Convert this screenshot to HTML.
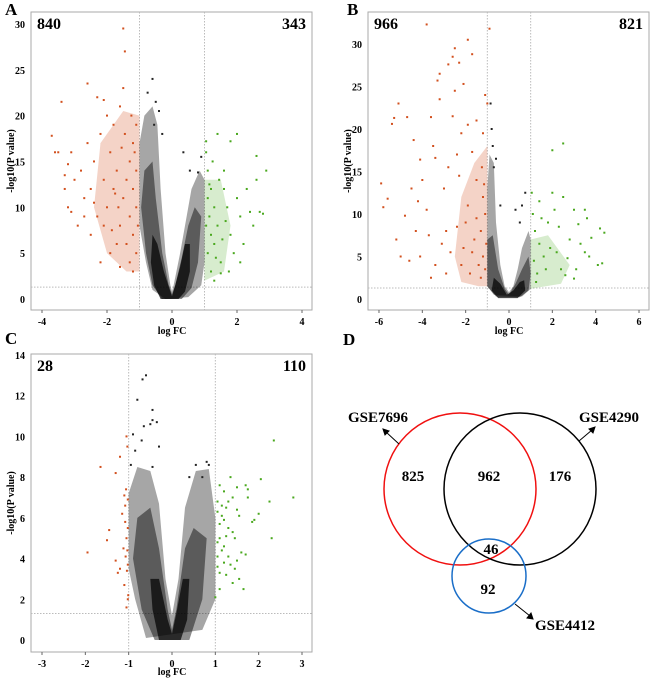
<!DOCTYPE html>
<html><head><meta charset="utf-8"><style>
html,body{margin:0;padding:0;background:#fff}
svg{display:block;font-family:"Liberation Serif",serif;font-weight:bold}
</style></head><body>
<svg id="fig" width="650" height="678" viewBox="0 0 650 678">
<g id="pA"></g>
<g id="pB"></g>
<g id="pC"></g>
<g id="pD">
  <text x="343" y="345" font-size="17">D</text>
  <circle cx="460" cy="489" r="76" fill="none" stroke="#f01010" stroke-width="1.5"/>
  <circle cx="520" cy="489" r="76" fill="none" stroke="#000" stroke-width="1.5"/>
  <circle cx="489" cy="576" r="37" fill="none" stroke="#1a6ec8" stroke-width="1.5"/>
  <text x="348" y="422" font-size="15">GSE7696</text>
  <text x="579" y="422" font-size="15">GSE4290</text>
  <text x="535" y="630" font-size="15">GSE4412</text>
  <g stroke="#000" stroke-width="1" fill="#000">
    <line x1="399" y1="444" x2="386" y2="432"/><polygon points="383,429 389,431 385,435"/>
    <line x1="579" y1="441" x2="592" y2="430"/><polygon points="595,427 593,433 589,429"/>
    <line x1="515" y1="604" x2="530" y2="616"/><polygon points="533,619 527,618 531,613"/>
  </g>
  <g font-size="15" text-anchor="middle">
    <text x="413" y="481">825</text>
    <text x="489" y="481">962</text>
    <text x="560" y="481">176</text>
    <text x="491" y="554">46</text>
    <text x="488" y="594">92</text>
  </g>
</g>
</svg>
<script>
// ---------- DATA ----------
const ticksXA = [-4,-2,0,2,4];
const ticksYA = [0,5,10,15,20,25,30];
const countsA = ["840","343"];
const cloudOuterA = [[-0.2,0],[-0.6,1],[-0.8,4],[-1,8],[-1,17],[-0.85,20],[-0.6,21],[-0.45,19],[-0.35,12],[-0.2,5],[-0.05,1.5],[0,0.8],[0.05,1.5],[0.25,5],[0.45,9],[0.6,12],[0.85,14],[1,13],[1,4],[0.9,1.5],[0.5,0.2]];
const cloudMidA = [[-0.3,0],[-0.6,1.5],[-0.8,5],[-0.95,10],[-0.85,14],[-0.6,15],[-0.5,11],[-0.3,5],[-0.1,1.5],[0,0.5],[0.1,1.5],[0.3,4.5],[0.5,8],[0.7,10],[0.9,9],[0.8,4],[0.6,1.2],[0.3,0]];
const cloudInnerA = [[-0.35,0],[-0.55,1.5],[-0.65,4],[-0.6,7],[-0.45,6],[-0.25,3],[-0.05,0.8],[0,0.3],[0.1,1.5],[0.25,3.5],[0.4,6],[0.55,6],[0.55,3],[0.4,0.8],[0.2,0]];
const blackA = [[-0.6,24],[-0.75,22.5],[-0.5,21.5],[-0.4,20.5],[-0.55,19],[0.35,16],[0.55,14],[0.8,13.8],[0.9,15.5],[-0.3,18]];
const redRegionA = [[-1,3],[-1,20],[-1.5,20.5],[-2.2,17],[-2.4,10],[-2,5],[-1.4,3]];
const redA = [[-1.1,19],[-1.2,17],[-1.3,15],[-1.1,14],[-1.4,13],[-1.2,12],[-1.5,11],[-1.1,10],[-1.3,9],[-1.6,8],[-1.2,7],[-1.4,6],[-1.1,5],[-1.3,4],[-1.7,14],[-1.8,12],[-1.9,16],[-2,10],[-2.1,13],[-2.2,18],[-2.3,9],[-2.4,15],[-2.5,12],[-2.6,17],[-2.7,11],[-2.8,14],[-2.9,8],[-3,13],[-3.1,16],[-3.2,10],[-3.3,13.5],[-3.5,16],[-3.7,17.8],[-3.4,21.5],[-2.6,23.5],[-2.3,22],[-1.5,29.5],[-1.45,27],[-1.6,21],[-1.8,19],[-2,20],[-1.7,6],[-1.9,5],[-2.2,4],[-2.5,7],[-2.1,8],[-1.6,3.5],[-1.2,3],[-1.05,8],[-1.15,16],[-1.25,20],[-1.45,18],[-1.55,16.5],[-1.65,10],[-1.75,11.5],[-1.85,7.5],[-2.4,10.5],[-2.7,9],[-3.1,9.5],[-3.3,12],[-1.5,23],[-2.1,21.7],[-3.6,16],[-3.2,14.7]];
const greenRegionA = [[1,2],[1,13],[1.5,13],[1.8,8],[1.6,3]];
const greenA = [[1.05,16],[1.1,14],[1.2,12],[1.1,11],[1.3,10],[1.15,9],[1.4,8],[1.2,7],[1.3,6],[1.1,5],[1.5,4],[1.2,3],[1.6,12],[1.7,10],[1.8,7],[1.9,5],[2,11],[2.1,9],[2.2,6],[2.3,12],[2.5,8],[2.6,13],[2.7,9.5],[2.9,14],[1.4,18],[2,18],[2.6,15.6],[1.3,2],[1.5,2.8],[1.6,14],[1.25,15],[1.45,13],[1.35,4.5],[1.75,3],[2.1,4],[1.55,6.5],[1.05,8],[1.15,12.5],[1.65,8.5],[2.4,9.5],[1.05,17.2],[1.8,17.2],[2.8,9.3]];

const ticksXB = [-6,-4,-2,0,2,4,6];
const ticksYB = [0,5,10,15,20,25,30];
const countsB = ["966","821"];
const cloudOuterB = [[-0.7,0.5],[-1,1.5],[-1,13],[-0.9,17],[-0.7,16],[-0.6,9],[-0.4,4],[-0.2,1.5],[0,0.8],[0.2,1.5],[0.4,3.5],[0.6,6],[0.9,8],[1,7],[1,1.2],[0.6,0.3]];
const cloudMidB = [[-0.6,0.3],[-1,1.5],[-1,7],[-0.75,7.5],[-0.5,3.5],[-0.2,1.2],[0,0.5],[0.3,1.8],[0.6,3.5],[0.9,5],[1,3],[0.9,1],[0.5,0.2]];
const cloudInnerB = [[-0.5,0.1],[-0.8,1],[-0.7,2.5],[-0.4,1.8],[-0.1,0.5],[0.2,1],[0.5,2],[0.7,2.2],[0.75,1],[0.4,0.1]];
const blackB = [[-0.8,20],[-0.85,23],[-0.6,16.5],[-0.7,15.5],[-0.4,11],[0.3,10.5],[0.6,11],[0.5,9],[-0.75,18],[0.75,12.5]];
const redRegionB = [[-1,1.5],[-1,18],[-1.6,16],[-2.2,12],[-2.5,5],[-2.2,2],[-1.4,1.5]];
const redB = [[-3.8,32.3],[-0.9,31.8],[-1.9,30.5],[-1.7,28.8],[-2.5,29.5],[-2.6,28.5],[-2.3,27.8],[-2.8,27.6],[-3.2,26.5],[-3.3,25.7],[-2.5,24.5],[-2.1,25.3],[-3.2,23.5],[-1,23],[-1.1,24],[-5.1,23],[-5.3,21.3],[-5.4,20.6],[-4.7,21.4],[-3.6,21.4],[-2.6,21.5],[-1.9,20.5],[-2.2,19.5],[-1.5,21],[-4.4,18.7],[-4.1,16.4],[-3.4,16.6],[-2.4,17],[-1.7,17.3],[-1.2,19.5],[-5.9,13.6],[-5.8,10.8],[-5.6,11.8],[-4.2,11.5],[-4.5,13],[-3,13],[-3.8,10.5],[-2.9,8],[-2,9],[-1.5,14],[-1.2,12],[-1.1,10],[-1.3,8],[-1.6,7],[-1.2,5],[-1.4,4],[-1.8,3],[-2.1,6],[-2.4,8.5],[-2.7,5.5],[-3.1,6.5],[-3.4,4],[-3.7,7.5],[-4.1,5],[-4.3,8],[-4.6,4.5],[-5.2,7],[-5,5],[-4.8,9.8],[-3.6,2.5],[-2.9,3],[-2.2,4],[-1.7,5.5],[-1.3,2.5],[-1.1,3.5],[-1.5,9.5],[-1.9,11],[-2.3,14.5],[-2.8,15.5],[-3.5,18],[-4,14],[-1.25,15.5],[-1.05,6.5],[-1.15,13.5]];
const greenRegionB = [[1,1.2],[1,7],[1.8,7.5],[2.8,4],[2.4,1.8]];
const greenB = [[1.05,12.5],[1.4,11.5],[2.0,12.5],[2.5,12],[2,17.5],[2.5,18.3],[1.5,9.5],[2.1,10.5],[3,10.5],[3.5,10.5],[3.6,9.5],[4.2,8.3],[4.4,7.8],[3.8,7.2],[3.3,6.5],[2.8,7],[2.3,8.5],[1.8,9],[1.2,8],[3.5,5.5],[4.1,4],[4.3,4.2],[3.1,3.5],[2.6,2.8],[3,2.4],[1.6,5],[1.3,3],[2.2,5.5],[1.1,10],[1.7,3.5],[2.7,4.8],[3.2,8.8],[1.9,6],[1.4,6.5],[2.4,3.5],[1.15,4.5],[1.25,2],[3.7,5]];

const ticksXC = [-3,-2,-1,0,1,2,3];
const ticksYC = [0,2,4,6,8,10,12,14];
const countsC = ["28","110"];
const cloudOuterC = [[-0.6,0.1],[-0.85,2],[-1,3.5],[-1,7.2],[-0.8,8.5],[-0.5,8.3],[-0.3,6.7],[-0.15,3],[0,1.2],[0.15,3],[0.3,6.5],[0.55,8.3],[0.85,8.4],[1,6],[1,2],[0.7,0.5]];
const cloudMidC = [[-0.4,0],[-0.7,1.5],[-0.9,4],[-0.8,6],[-0.5,6.5],[-0.3,4.5],[-0.1,1.5],[0,0.5],[0.1,1.5],[0.3,4.5],[0.5,5.5],[0.8,5],[0.7,2],[0.4,0]];
const cloudInnerC = [[-0.3,0],[-0.45,1.5],[-0.5,3],[-0.3,3],[-0.1,1],[0,0.3],[0.1,1.3],[0.25,3],[0.4,3],[0.35,1],[0.2,0]];
const blackC = [[-0.6,13],[-0.68,12.8],[-0.8,11.8],[-0.45,11.3],[-0.45,10.8],[-0.35,10.7],[-0.5,10.6],[-0.65,10.5],[-0.9,10.1],[-0.7,9.8],[-0.3,9.5],[-0.85,9.3],[-0.95,8.6],[0.8,8.75],[0.85,8.6],[0.55,8.6],[0.4,8],[0.7,8],[-0.45,8.5]];
const redC = [[-1.95,4.3],[-1.65,8.5],[-1.5,4.9],[-1.45,5.4],[-1.3,8.2],[-1.3,3.9],[-1.25,3.3],[-1.2,9],[-1.2,3.5],[-1.15,6.2],[-1.12,4.5],[-1.1,2.7],[-1.1,7.1],[-1.08,5.8],[-1.05,10],[-1.05,5],[-1.03,4.4],[-1.02,3.7],[-1.02,2],[-1.05,1.6],[-1.03,9.5],[-1.02,6.9],[-1.02,5.5],[-1.04,3.4],[-1.06,7.4],[-1.07,4.1],[-1.01,2.2],[-1.08,6.6]];
const greenC = [[2.35,9.8],[1.35,8],[2.05,7.9],[1.7,7.6],[1.5,7.5],[1.75,7.4],[1.1,7.6],[1.2,7.3],[1.4,7],[1.75,7],[2.8,7],[2.25,6.8],[1.05,6.8],[1.15,6.6],[1.25,6.5],[1.05,6.3],[1.5,6.4],[1.55,6.1],[2.0,6.2],[1.9,5.9],[1.85,5.8],[1.2,5.9],[1.1,5.7],[1.3,5.5],[1.4,5.3],[1.25,5.1],[1.1,5],[1.05,4.8],[1.45,5],[2.3,5],[1.6,4.3],[1.7,4.2],[1.3,4.1],[1.15,4.4],[1.5,3.9],[1.05,4.1],[1.2,3.8],[1.35,3.7],[1.45,3.5],[1.1,3.3],[1.25,3.2],[1.55,3],[1.1,2.5],[1.65,2.5],[1.15,6.1],[1.2,4.6],[1.0,2.1],[1.4,2.8],[1.05,3.6],[1.3,6.8]];

// ---------- DRAW ----------
const NS = "http://www.w3.org/2000/svg";
function mk(parent, tag, attrs){
  const el = document.createElementNS(NS, tag);
  for (const k in attrs) el.setAttribute(k, attrs[k]);
  parent.appendChild(el);
  return el;
}
function panel(gId, cfg){
  const g = document.getElementById(gId);
  const {x0,x1,y0,y1,xs,ys} = cfg;
  const fr = mk(g,'rect',{x:x0,y:y0,width:x1-x0,height:y1-y0,fill:'none',stroke:'#aaa','stroke-width':1});
  
  
  [-1,1].forEach(v=>{
    const l = mk(g,'line',{x1:xs(v),x2:xs(v),y1:y0,y2:y1,stroke:'#bbb','stroke-width':1,'stroke-dasharray':'1.5,1.5'});
    
    
  });
  const hl = mk(g,'line',{x1:x0,x2:x1,y1:ys(1.3),y2:ys(1.3),stroke:'#bbb','stroke-width':1,'stroke-dasharray':'1.5,1.5'});
  
  
  const poly = (pts, fill, op, name)=>{
    const p = mk(g,'polygon',{points:pts.map(d=>xs(d[0])+','+ys(d[1])).join(' '),fill:fill,'fill-opacity':op,'stroke-linejoin':'round'});
    
    
  };
  if (cfg.redRegion) poly(cfg.redRegion,'#d2501e',0.25,'down-regulated-density');
  if (cfg.greenRegion) poly(cfg.greenRegion,'#48a81e',0.22,'up-regulated-density');
  poly(cfg.outer,'#000',0.35,'non-significant-cloud');
  poly(cfg.mid,'#000',0.45,'non-significant-cloud-mid');
  poly(cfg.inner,'#000',0.7,'non-significant-core');
  const dots = (arr, col, name)=>{
    arr.forEach(d=>{
      const c = mk(g,'rect',{x:xs(d[0])-1,y:ys(d[1])-1,width:2,height:2,fill:col});
      
      
    });
  };
  dots(cfg.black,'#222','gene-point');
  dots(cfg.red,'#d2501e','down-gene-point');
  dots(cfg.green,'#4aa81e','up-gene-point');
  cfg.tx.forEach(v=>{
    const t = mk(g,'line',{x1:xs(v),x2:xs(v),y1:y1,y2:y1+3,stroke:'#666'});
    
    
    const tl = mk(g,'text',{x:xs(v),y:y1+15,'font-size':10,'text-anchor':'middle'});
    tl.textContent = v;
    
    
  });
  cfg.ty.forEach(v=>{
    const tl = mk(g,'text',{x:x0-6,y:ys(v)+4,'font-size':10,'text-anchor':'end'});
    tl.textContent = v;
    
    
  });
  const xt = mk(g,'text',{x:xs(0),y:cfg.xtY,'font-size':10,'text-anchor':'middle'});
  xt.textContent = 'log FC';
  
  
  const yc = (y0+y1)/2;
  const yt = mk(g,'text',{x:cfg.ytX,y:yc,'font-size':10,'text-anchor':'middle',transform:'rotate(-90 '+cfg.ytX+' '+yc+')'});
  yt.textContent = '-log10(P value)';
  
  
  const c1 = mk(g,'text',{x:x0+6,y:y0+17,'font-size':16});
  c1.textContent = cfg.counts[0];
  
  
  const c2 = mk(g,'text',{x:x1-6,y:y0+17,'font-size':16,'text-anchor':'end'});
  c2.textContent = cfg.counts[1];
  
  
  const pl = mk(g,'text',{x:cfg.lx,y:cfg.ly,'font-size':17});
  pl.textContent = cfg.letter;
  
  
}
panel('pA',{x0:31,x1:312,y0:12,y1:310,xs:v=>172+v*32.5,ys:v=>299-v*9.17,
  outer:cloudOuterA,mid:cloudMidA,inner:cloudInnerA,black:blackA,red:redA,green:greenA,redRegion:redRegionA,greenRegion:greenRegionA,
  tx:ticksXA,ty:ticksYA,counts:countsA,xtY:334,ytX:14,lx:5,ly:15,letter:'A'});
panel('pB',{x0:368,x1:649,y0:12,y1:310,xs:v=>509+v*21.67,ys:v=>299-v*8.5,
  outer:cloudOuterB,mid:cloudMidB,inner:cloudInnerB,black:blackB,red:redB,green:greenB,redRegion:redRegionB,greenRegion:greenRegionB,
  tx:ticksXB,ty:ticksYB,counts:countsB,xtY:334,ytX:351,lx:347,ly:15,letter:'B'});
panel('pC',{x0:31,x1:312,y0:354,y1:652,xs:v=>172+v*43.33,ys:v=>640-v*20.36,
  outer:cloudOuterC,mid:cloudMidC,inner:cloudInnerC,black:blackC,red:redC,green:greenC,
  tx:ticksXC,ty:ticksYC,counts:countsC,xtY:675,ytX:14,lx:5,ly:344,letter:'C'});
</script>
</body></html>
